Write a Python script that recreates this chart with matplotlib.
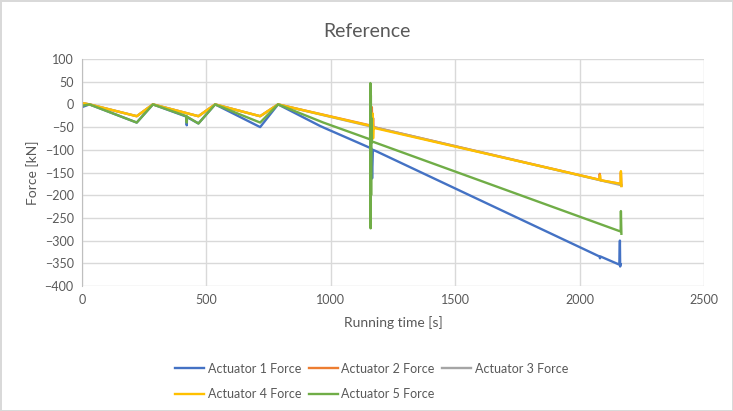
import matplotlib.pyplot as plt

plt.rcParams['font.family'] = ['Lato', 'DejaVu Sans']

# running time [s] and force [kN], one pair per actuator
a1_t = [0, 30, 220, 285, 420, 421, 422, 468, 535, 716, 788, 955, 975, 1163, 1166, 1169, 1182, 2080, 2082, 2084, 2160, 2162, 2163, 2165]
a1_f = [-6, 0, -40, 0, -27, -46, -28, -42, 0, -50, 0, -47, -52, -97, -163, -100, -103, -335, -339, -335, -353, -300, -357, -352]

a2_t = [0, 30, 220, 285, 468, 535, 716, 788, 1164, 1165, 1167, 1170, 1172, 2080, 2081, 2083, 2165, 2166, 2168]
a2_f = [3, 0, -26, 0, -26, 0, -26, 0, -47, -6, -60, -30, -50, -166, -153, -167, -175, -150, -179]

a3_t = [0, 30, 220, 285, 468, 535, 716, 788, 1172, 2168]
a3_f = [3, 0, -26, 0, -26, 0, -26, 0, -50, -178]

a4_t = [0, 30, 220, 285, 468, 535, 716, 788, 1165, 1168, 1170, 1172, 1175, 2080, 2082, 2084, 2165, 2166, 2168]
a4_f = [3, 0, -26, 0, -26, 0, -26, 0, -48, -20, -75, -50, -52, -166, -156, -167, -175, -147, -180]

a5_t = [0, 30, 220, 285, 420, 421, 422, 468, 535, 716, 788, 970, 1158, 1159, 1160, 1161, 1162, 1163, 1164, 1168, 2165, 2166, 2168]
a5_f = [-3, 0, -40, 0, -26, -40, -27, -42, 0, -40, 0, -40, -77, 47, -273, 20, -200, -30, -84, -82, -280, -235, -285]

names = ["Actuator 1 Force", "Actuator 2 Force", "Actuator 3 Force", "Actuator 4 Force", "Actuator 5 Force"]
colors = ["#4472c4", "#ed7d31", "#a5a5a5", "#ffc000", "#70ad47"]

fig = plt.figure(figsize=(7.33, 4.11), dpi=100)
fig.patch.set_edgecolor("#d9d9d9")
fig.patch.set_linewidth(1)
ax = fig.add_axes([82/733, 1 - 286/411, 622/733, 227/411])

series = [(a1_t, a1_f), (a2_t, a2_f), (a3_t, a3_f), (a4_t, a4_f), (a5_t, a5_f)]
lines = []
for (t, f), name, c in zip(series, names, colors):
    ln, = ax.plot(t, f, color=c, lw=1.7, label=name, solid_joinstyle="round")
    lines.append(ln)

ax.set_xlim(0, 2500)
ax.set_ylim(-400, 100)
ax.set_xticks(range(0, 2501, 500))
ax.set_yticks(range(-400, 101, 50))
ax.grid(True, color="#d9d9d9", lw=1)
ax.set_axisbelow(True)
ax.axhline(0, color="#bfbfbf", lw=1, zorder=0.5)
for s in ["top", "right", "bottom"]:
    ax.spines[s].set_visible(False)
ax.spines["left"].set_color("#bfbfbf")
ax.tick_params(length=0, colors="#595959", labelsize=9, pad=6)

ax.set_xlabel("Running time [s]", color="#595959", fontsize=10, labelpad=7)
ax.set_ylabel("Force [kN]", color="#595959", fontsize=10, labelpad=4)
fig.suptitle("Reference", color="#595959", fontsize=14, y=0.945)

# legend reads row by row in the reference
order = [0, 3, 1, 4, 2]
leg = fig.legend([lines[i] for i in order], [names[i] for i in order], ncol=3,
                 loc="upper center", bbox_to_anchor=(0.507, 0.145), frameon=False,
                 fontsize=9, handlelength=2.3, handletextpad=0.3, columnspacing=0.6,
                 labelspacing=1.1, labelcolor="#595959")

fig.savefig("out.png", dpi=100)
